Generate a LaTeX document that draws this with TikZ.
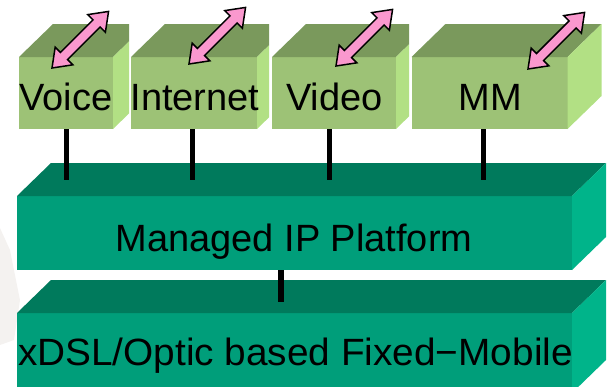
\documentclass[tikz,border=0pt]{standalone}
\usepackage{fontspec}
\setmainfont{Liberation Sans}
\definecolor{cubetop}{RGB}{122,153,92}
\definecolor{cubefront}{RGB}{157,194,118}
\definecolor{cubeside}{RGB}{178,224,132}
\definecolor{slabtop}{RGB}{0,122,92}
\definecolor{slabfront}{RGB}{0,158,122}
\definecolor{slabside}{RGB}{0,180,138}
\definecolor{arrowpink}{RGB}{250,152,206}
\definecolor{faintgrey}{RGB}{244,242,240}
\tikzset{
  face/.style={draw=none, inner sep=0pt, outer sep=0pt, anchor=north west},
  caption/.style={font=\fontsize{38}{38}\selectfont, anchor=base, inner sep=0pt},
  link/.style={line width=5.5pt, black},
  pinkshape/.style={fill=arrowpink, draw=black, line width=1.5pt, line join=miter},
}
% top and right faces of a box whose front face is the node #1
\newcommand\boxfaces[3]{%
  \fill[#2] (#1.north west) -- ++(34,-33) -- ([shift={(34,-33)}]#1.north east) -- (#1.north east) -- cycle;
  \fill[#3] (#1.north east) -- ([shift={(34,-33)}]#1.north east) -- ([shift={(34,-33)}]#1.south east) -- (#1.south east) -- cycle;
}
% pink two-headed block arrow, 80 long, tilted up to the right
\newcommand\twoway[2]{%
  \begin{scope}[shift={(#1,#2)}, rotate=45]
    \draw[pinkshape] (0,0) -- (17,12.5) -- (17,5) -- (63,5) -- (63,12.5) -- (80,0)
      -- (63,-12.5) -- (63,-5) -- (17,-5) -- (17,-12.5) -- cycle;
  \end{scope}}
\begin{document}
\begin{tikzpicture}[x=1pt, y=-1pt]
  \useasboundingbox (0,0) rectangle (612,386);

  % pale backdrop mark at the left edge
  \fill[faintgrey] (0,228) -- (10,250) -- (20,300) -- (14,340) -- (0,345) -- cycle;

  % access layer
  \begin{scope}
    \clip (0,0) rectangle (612,386);
    \node[face, fill=slabfront, minimum width=555pt, minimum height=80pt] (access) at (17,313) {};
    \boxfaces{access}{slabtop}{slabside}
  \end{scope}
  \node[caption, xscale=1.02] at (295.5,365) {xDSL/Optic based Fixed−Mobile};

  % IP platform layer
  \node[face, fill=slabfront, minimum width=555pt, minimum height=74pt] (ip) at (17,196) {};
  \boxfaces{ip}{slabtop}{slabside}
  \node[caption] at (294,251) {Managed IP Platform};

  % service boxes
  \begin{scope}
    \clip (0,0) rectangle (129,140);
    \node[face, fill=cubefront, minimum width=94pt, minimum height=72pt] (voice) at (19,57) {};
    \boxfaces{voice}{cubetop}{cubeside}
  \end{scope}
  \begin{scope}
    \clip (0,0) rectangle (269,140);
    \node[face, fill=cubefront, minimum width=126pt, minimum height=72pt] (internet) at (131,57) {};
    \boxfaces{internet}{cubetop}{cubeside}
  \end{scope}
  \begin{scope}
    \clip (0,0) rectangle (409,140);
    \node[face, fill=cubefront, minimum width=124pt, minimum height=72pt] (video) at (272,57) {};
    \boxfaces{video}{cubetop}{cubeside}
  \end{scope}
  \node[face, fill=cubefront, minimum width=156pt, minimum height=72pt] (mm) at (411.5,57) {};
  \boxfaces{mm}{cubetop}{cubeside}

  \node[caption] at (66,110) {Voice};
  \node[caption] at (195,110) {Internet};
  \node[caption] at (334.5,110) {Video};
  \node[caption] at (490,110) {MM};

  \twoway{52}{68}
  \twoway{189}{64}
  \twoway{336}{66}
  \twoway{528}{69}

  % links into the platform
  \coordinate (l1) at (66.3,180);
  \coordinate (l2) at (192.3,180);
  \coordinate (l3) at (329.6,180);
  \coordinate (l4) at (483.7,180);
  \coordinate (l5) at (281,302);
  \draw[link] (voice.south -| l1) -- (l1);
  \draw[link] (internet.south -| l2) -- (l2);
  \draw[link] (video.south -| l3) -- (l3);
  \draw[link] (mm.south -| l4) -- (l4);
  \draw[link] (ip.south -| l5) -- (l5);
\end{tikzpicture}
\end{document}
